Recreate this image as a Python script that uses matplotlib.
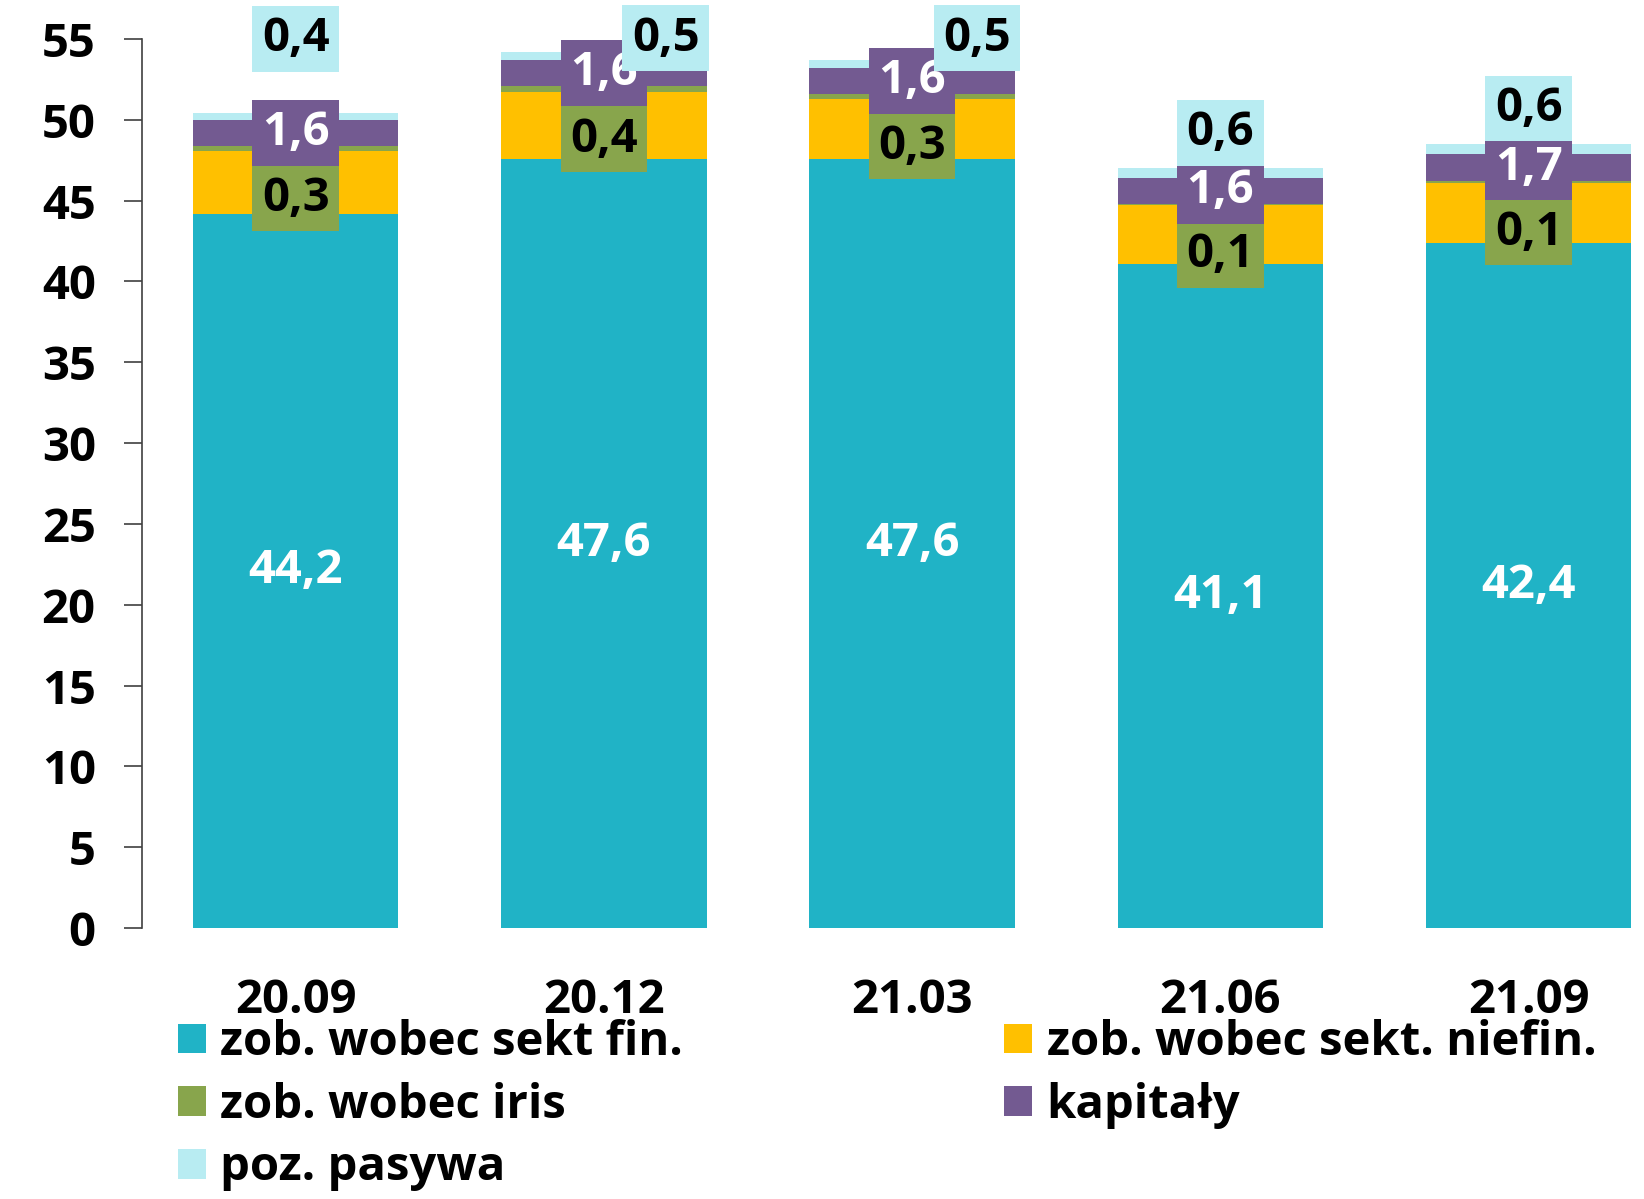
import matplotlib.pyplot as plt
import numpy as np

plt.rcParams['font.family'] = ['Open Sans', 'DejaVu Sans']
plt.rcParams['font.weight'] = 'bold'

quarters = ["20.09", "20.12", "21.03", "21.06", "21.09"]
sekt_fin = [44.2, 47.6, 47.6, 41.1, 42.4]
sekt_niefin = [3.9, 4.1, 3.7, 3.6, 3.7]
iris = [0.3, 0.4, 0.3, 0.1, 0.1]
kapitaly = [1.6, 1.6, 1.6, 1.6, 1.7]
pasywa = [0.4, 0.5, 0.5, 0.6, 0.6]

names = ["zob. wobec sekt fin.", "zob. wobec sekt. niefin.", "zob. wobec iris", "kapitały", "poz. pasywa"]
colors = ["#20B3C6", "#FFC000", "#88A54C", "#735A91", "#B8ECF2"]

# label shifts (manual placement like in the original)
iris_dy = -3.1
pas_dx = [0, 0.2, 0.21, 0, 0]
pas_dy = [4.8, 1.1, 1.6, 2.5, 2.5]

fig = plt.figure(figsize=(16.44, 11.99), dpi=100)
ax = fig.add_axes([0.0861, 0.226, 0.9375, 0.7415])

x = np.arange(len(quarters))
w = 0.667
series = [sekt_fin, sekt_niefin, iris, kapitaly, pasywa]
bottom = np.zeros(len(quarters))
bars = []
bottoms = []
for vals, nm, c in zip(series, names, colors):
    b = ax.bar(x, vals, w, bottom=bottom, color=c, label=nm, zorder=2)
    bars.append(b)
    bottoms.append(bottom.copy())
    bottom = bottom + np.array(vals)

fmt = lambda v: ("%.1f" % v).replace(".", ",")
fs = 34
box = "square,pad=0.2"

for i in range(len(quarters)):
    # sekt fin - centred, white
    ax.text(x[i], sekt_fin[i] / 2, fmt(sekt_fin[i]), ha="center", va="center",
            color="white", fontsize=fs, fontweight="bold")
    # iris - boxed, below its segment
    yc = bottoms[2][i] + iris[i] / 2 + iris_dy
    ax.text(x[i], yc, fmt(iris[i]), ha="center", va="center", color="black",
            fontsize=fs, fontweight="bold", zorder=4,
            bbox=dict(boxstyle=box, fc=colors[2], ec="none"))
    # kapitały - boxed, centred
    yc = bottoms[3][i] + kapitaly[i] / 2
    ax.text(x[i], yc, fmt(kapitaly[i]), ha="center", va="center", color="white",
            fontsize=fs, fontweight="bold", zorder=4,
            bbox=dict(boxstyle=box, fc=colors[3], ec="none"))
    # pasywa - boxed, above
    yc = bottoms[4][i] + pasywa[i] / 2 + pas_dy[i]
    ax.text(x[i] + pas_dx[i], yc, fmt(pasywa[i]), ha="center", va="center", color="black",
            fontsize=fs, fontweight="bold", zorder=5, clip_on=False,
            bbox=dict(boxstyle=box, fc=colors[4], ec="none"))

ax.set_xlim(-0.5, len(quarters) - 0.5)
ax.set_ylim(0, 55)
ax.set_yticks(range(0, 56, 5))
ax.set_xticks(x)
ax.set_xticklabels(quarters)
for s in ["top", "right", "bottom"]:
    ax.spines[s].set_visible(False)
ax.spines["left"].set_color("#404040")
ax.spines["left"].set_linewidth(1.2)
ax.tick_params(axis="y", length=13, width=1.2, color="#404040", pad=20, labelsize=fs)
ax.tick_params(axis="x", length=0, pad=35, labelsize=fs)

h = [bars[0], bars[2], bars[4], bars[1], bars[3]]
l = [names[0], names[2], names[4], names[1], names[3]]
fig.legend(h, l, loc="upper left", bbox_to_anchor=(0.108, 0.15), ncol=2, frameon=False,
           fontsize=fs, handlelength=0.6, handleheight=0.6, handletextpad=0.3,
           labelspacing=0.33, columnspacing=6.8, borderaxespad=0, borderpad=0)

fig.savefig("out.png", dpi=100)
